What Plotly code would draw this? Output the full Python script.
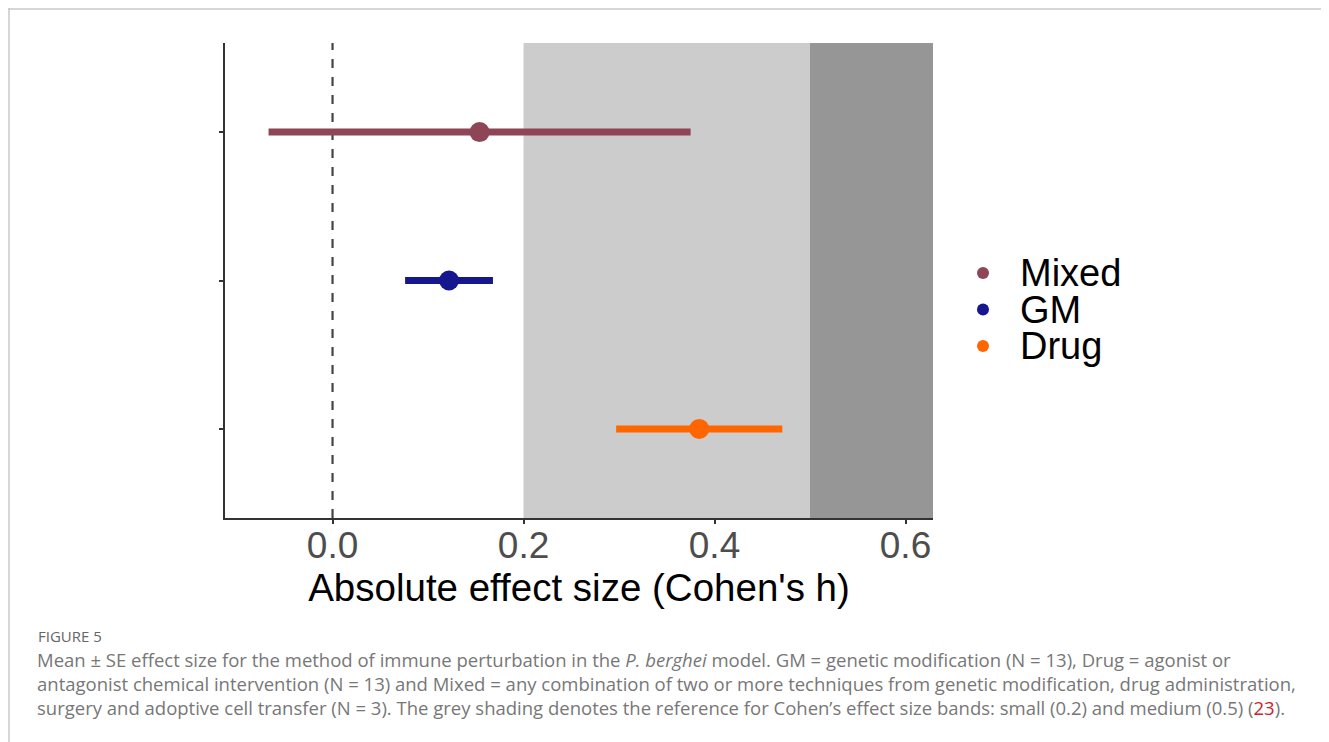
import plotly.graph_objects as go

# Data
categories = ["Drug", "GM", "Mixed"]
means = [0.384, 0.122, 0.154]
se = [0.087, 0.046, 0.221]
colors = ["#FF6600", "#16168F", "#8E4556"]
legend_order = ["Mixed", "GM", "Drug"]
x_ticks = [0.0, 0.2, 0.4, 0.6]
x_tick_labels = ["0.0", "0.2", "0.4", "0.6"]
band_small = [0.2, 0.5]
band_medium = [0.5, 0.7]
x_title = "Absolute effect size (Cohen's h)"

OFF = 8  # page body margin
W, H = 1329 - OFF, 742 - OFF
# page-pixel layout targets
PL, PR, PT, PB = 225, 933, 43, 518
ML, MR, MT = PL - OFF, 20, PT - OFF
MB = H - (PB - OFF)
PW = W - ML - MR
PH = PB - PT


def px_x(page_x):
    return (page_x - PL) / PW


def px_y(page_y):
    return (PB - page_y) / PH


fig = go.Figure()

for name in legend_order:
    i = categories.index(name)
    fig.add_trace(go.Scatter(
        x=[means[i]], y=[name], mode="markers", name=name,
        marker=dict(color=colors[i], size=20),
        error_x=dict(type="data", array=[se[i]], color=colors[i], thickness=7, width=0),
        showlegend=False, xaxis="x", yaxis="y",
    ))

# custom legend (dots on a small helper axis, 40 px per unit)
leg_rows = list(reversed(legend_order))
fig.add_trace(go.Scatter(
    x=[0.5] * len(leg_rows), y=leg_rows, mode="markers",
    marker=dict(color=[colors[categories.index(n)] for n in leg_rows], size=12),
    showlegend=False, xaxis="x2", yaxis="y2", hoverinfo="skip",
))
for n in legend_order:
    fig.add_annotation(xref="x2", yref="y2", x=1.38, y=leg_rows.index(n), xanchor="left", yanchor="middle",
                       text=n, showarrow=False,
                       font=dict(family="Liberation Sans", size=38, color="#000000"))

# shading
fig.add_shape(type="rect", xref="x", yref="y domain", x0=band_small[0], x1=band_small[1], y0=0, y1=1,
              fillcolor="#CCCCCC", line_width=0, layer="below")
fig.add_shape(type="rect", xref="x", yref="y domain", x0=band_medium[0], x1=band_medium[1], y0=0, y1=1,
              fillcolor="#969696", line_width=0, layer="below")
# zero line
fig.add_shape(type="line", xref="x", yref="y domain", x0=0, x1=0, y0=0, y1=1,
              line=dict(color="#444444", width=2.2, dash="dash"), layer="below")

# outer frame (top & left only)
fig.add_shape(type="line", xref="paper", yref="paper",
              x0=px_x(OFF), x1=px_x(1329 + 5), y0=px_y(OFF + 1), y1=px_y(OFF + 1),
              line=dict(color="#C8C8C8", width=1.5))
fig.add_shape(type="line", xref="paper", yref="paper",
              x0=px_x(OFF + 1), x1=px_x(OFF + 1), y0=px_y(OFF), y1=px_y(760),
              line=dict(color="#C8C8C8", width=1.5))

fig.update_layout(
    xaxis=dict(domain=[0, (PR - PL) / PW], range=[-0.1126, 0.6288], tickvals=x_ticks, ticktext=x_tick_labels,
               showgrid=False, zeroline=False, showline=True, linecolor="#333333", linewidth=2,
               ticks="outside", ticklen=4, tickcolor="#333333", tickwidth=1.5,
               ticklabelstandoff=-10,
               tickfont=dict(family="Liberation Sans", size=37, color="#4D4D4D"),
               title=dict(text=x_title,
                          font=dict(family="Liberation Sans", size=38.5, color="#000000"),
                          standoff=0)),
    yaxis=dict(domain=[0, 1], categoryorder="array", categoryarray=categories, range=[-0.6, 2.6],
               showticklabels=False, showgrid=False, zeroline=False,
               showline=True, linecolor="#333333", linewidth=2,
               ticks="outside", ticklen=4, tickcolor="#333333", tickwidth=1.5),
    xaxis2=dict(domain=[px_x(963), px_x(1163)], range=[0, 5], visible=False, anchor="y2"),
    yaxis2=dict(domain=[px_y(364.25), px_y(254.75)], range=[-0.5, 2.5], type="category",
                categoryorder="array", categoryarray=leg_rows, visible=False, anchor="x2"),
)

cap_font = dict(family="Open Sans", size=18.5, color="#777777")
fig.add_annotation(xref="paper", yref="paper", x=px_x(36), y=px_y(636), xanchor="left", yanchor="middle",
                   text="FIGURE 5", showarrow=False, font=dict(family="Open Sans", size=15, color="#666666"))
lines = [
    "Mean ± SE effect size for the method of immune perturbation in the <i>P. berghei</i> model. GM = genetic modification (N = 13), Drug = agonist or",
    "antagonist chemical intervention (N = 13) and Mixed = any combination of two or more techniques from genetic modification, drug administration,",
    "surgery and adoptive cell transfer (N = 3). The grey shading denotes the reference for Cohen’s effect size bands: small (0.2) and medium (0.5) (<span style='color:#D0202A'>23</span>).",
]
for k, t in enumerate(lines):
    fig.add_annotation(xref="paper", yref="paper", x=px_x(35), y=px_y(659 + 24 * k), xanchor="left",
                       yanchor="middle", text=t, showarrow=False, font=cap_font)

fig.update_layout(
    width=W, height=H,
    margin=dict(l=ML, r=MR, t=MT, b=MB, pad=0),
    paper_bgcolor="white", plot_bgcolor="white",
    showlegend=False,
)

fig.write_html("out.html")
